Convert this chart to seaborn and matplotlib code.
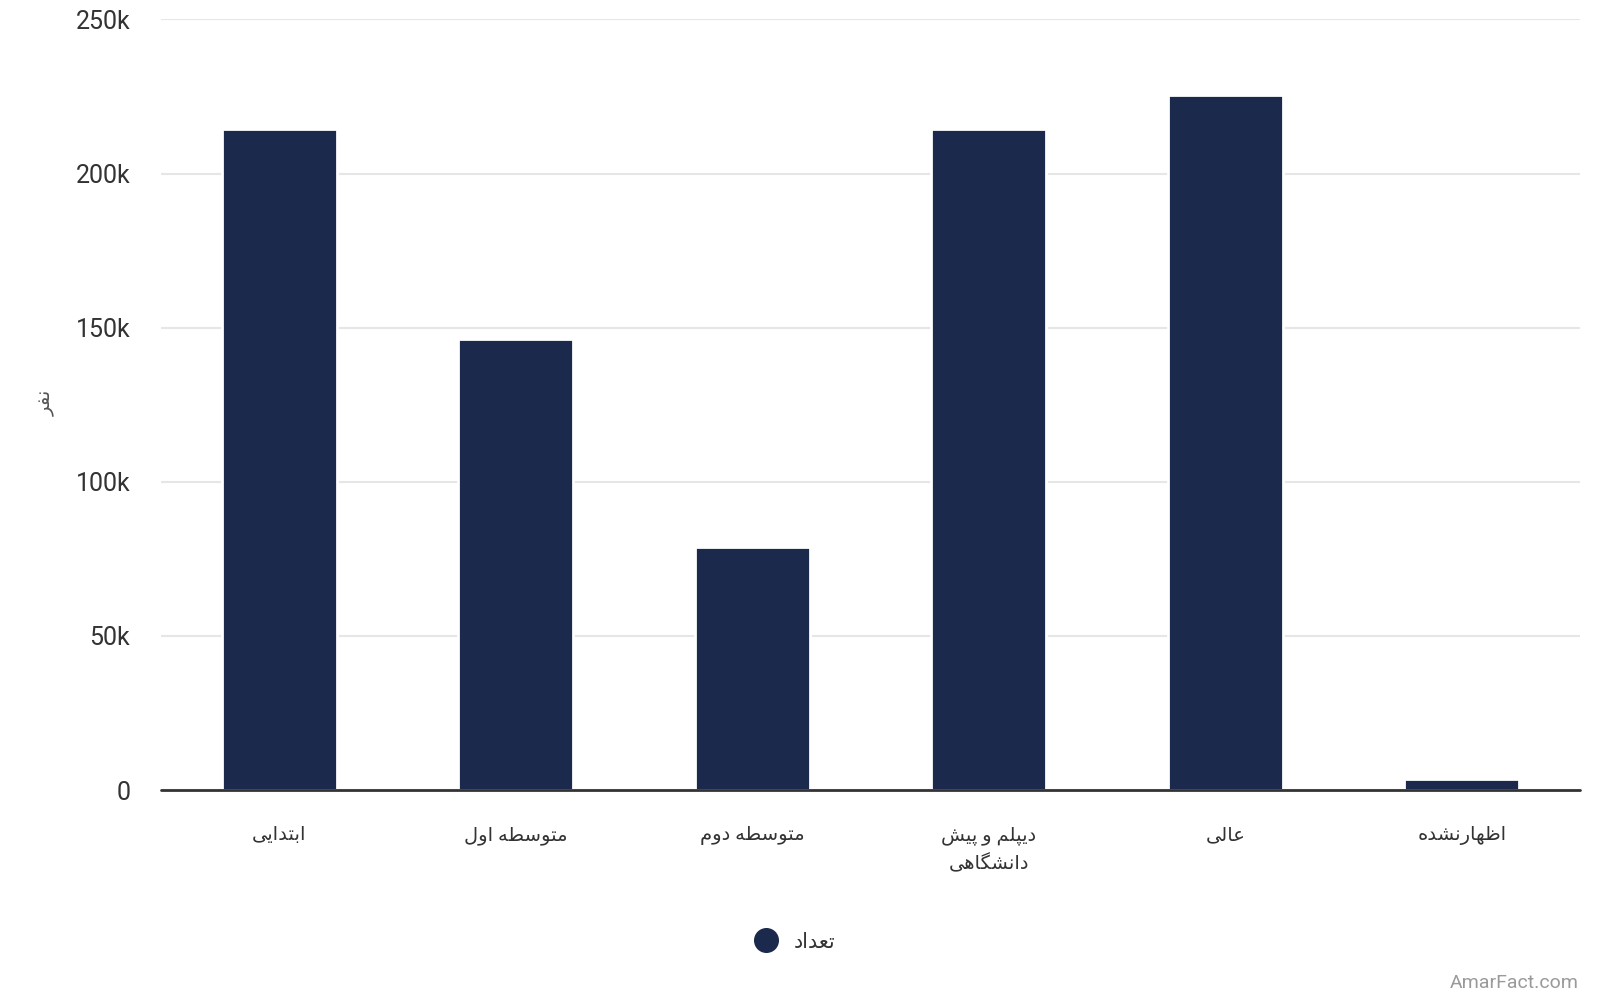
import numpy as np
import pandas as pd
import matplotlib
matplotlib.use("Agg")
import matplotlib.pyplot as plt
from matplotlib.lines import Line2D
from matplotlib.ticker import FuncFormatter
import seaborn as sns

# DATA
categories = ["ابتدایی", "متوسطه اول", "متوسطه دوم", "دیپلم و پیش\nدانشگاهی", "عالی", "اظهارنشده"]
counts = [214500, 146300, 78700, 214500, 225400, 3600]
series_name = "تعداد"
y_label = "نفر"
y_ticks = [0, 50000, 100000, 150000, 200000, 250000]

# STYLE
bar_color = "#1b2a4c"
text_color = "#333333"

# ARABIC SHAPING (matplotlib has no shaping / bidi)
# letter: (isolated, final, initial, medial); None = does not join forward
FORMS = {
    "ا": (0xFE8D, 0xFE8E, None, None),
    "ب": (0xFE8F, 0xFE90, 0xFE91, 0xFE92),
    "ت": (0xFE95, 0xFE96, 0xFE97, 0xFE98),
    "د": (0xFEA9, 0xFEAA, None, None),
    "ر": (0xFEAD, 0xFEAE, None, None),
    "س": (0xFEB1, 0xFEB2, 0xFEB3, 0xFEB4),
    "ش": (0xFEB5, 0xFEB6, 0xFEB7, 0xFEB8),
    "ط": (0xFEC1, 0xFEC2, 0xFEC3, 0xFEC4),
    "ظ": (0xFEC5, 0xFEC6, 0xFEC7, 0xFEC8),
    "ع": (0xFEC9, 0xFECA, 0xFECB, 0xFECC),
    "ف": (0xFED1, 0xFED2, 0xFED3, 0xFED4),
    "ل": (0xFEDD, 0xFEDE, 0xFEDF, 0xFEE0),
    "م": (0xFEE1, 0xFEE2, 0xFEE3, 0xFEE4),
    "ن": (0xFEE5, 0xFEE6, 0xFEE7, 0xFEE8),
    "ه": (0xFEE9, 0xFEEA, 0xFEEB, 0xFEEC),
    "و": (0xFEED, 0xFEEE, None, None),
    "پ": (0xFB56, 0xFB57, 0xFB58, 0xFB59),
    "گ": (0xFB92, 0xFB93, 0xFB94, 0xFB95),
    "ی": (0xFBFC, 0xFBFD, 0xFBFE, 0xFBFF),
}


def shape_line(s):
	out = []
	for i, ch in enumerate(s):
		if ch not in FORMS:
			out.append(ch)
			continue
		prev = s[i - 1] if i > 0 else ""
		nxt = s[i + 1] if i + 1 < len(s) else ""
		join_prev = prev in FORMS and FORMS[prev][2] is not None
		join_next = FORMS[ch][2] is not None and nxt in FORMS
		iso, fin, ini, med = FORMS[ch]
		if join_prev and join_next:
			out.append(chr(med))
		elif join_prev:
			out.append(chr(fin))
		elif join_next:
			out.append(chr(ini))
		else:
			out.append(chr(iso))
	return "".join(out)[::-1]


def fa(s):
	return "\n".join(shape_line(line) for line in s.split("\n"))


df = pd.DataFrame({"category": [fa(c) for c in categories], "count": counts})

sns.set_theme(style="white")
plt.rcParams["font.family"] = ["Roboto", "DejaVu Sans"]

fig = plt.figure(figsize=(16, 10), dpi=100)
ax = fig.add_axes([0.1006, 0.21, 0.8869, 0.7706])

sns.barplot(
	data=df, x="category", y="count", color=bar_color, saturation=1,
	width=0.485, edgecolor="white", linewidth=2, ax=ax, zorder=2
)

ax.set_xlim(-0.5, len(categories) - 0.5)
ax.set_ylim(0, 250000)
ax.set_yticks(y_ticks)
ax.yaxis.set_major_formatter(FuncFormatter(lambda v, p: "0" if v == 0 else f"{int(v / 1000)}k"))
ax.grid(axis="y", color="#e6e6e6", linewidth=1.5, zorder=0)
ax.set_axisbelow(True)
ax.axhline(0, color="#333333", linewidth=2, zorder=5, clip_on=False)
for s in ax.spines.values():
	s.set_visible(False)

ax.tick_params(axis="y", length=0, pad=22, labelsize=18, labelcolor=text_color)
ax.tick_params(axis="x", length=0, pad=26, labelsize=14, labelcolor=text_color)
for lbl in ax.get_xticklabels():
	lbl.set_linespacing(1.55)
ax.set_xlabel("")
ax.set_ylabel("")
fig.text(0.029, 0.597, fa(y_label), rotation=90, ha="center", va="center",
	fontsize=14, color="#555555")

handle = Line2D([], [], marker="o", linestyle="", markersize=17, color=bar_color)
fig.legend(
	[handle], [fa(series_name)], loc="center", bbox_to_anchor=(0.494, 0.058),
	frameon=False, fontsize=15, handletextpad=0.3, labelcolor=text_color
)

fig.text(0.987, 0.017, "AmarFact.com", ha="right", va="center", fontsize=14, color="#9a9a9a")

plt.savefig("out.png", dpi=100)
